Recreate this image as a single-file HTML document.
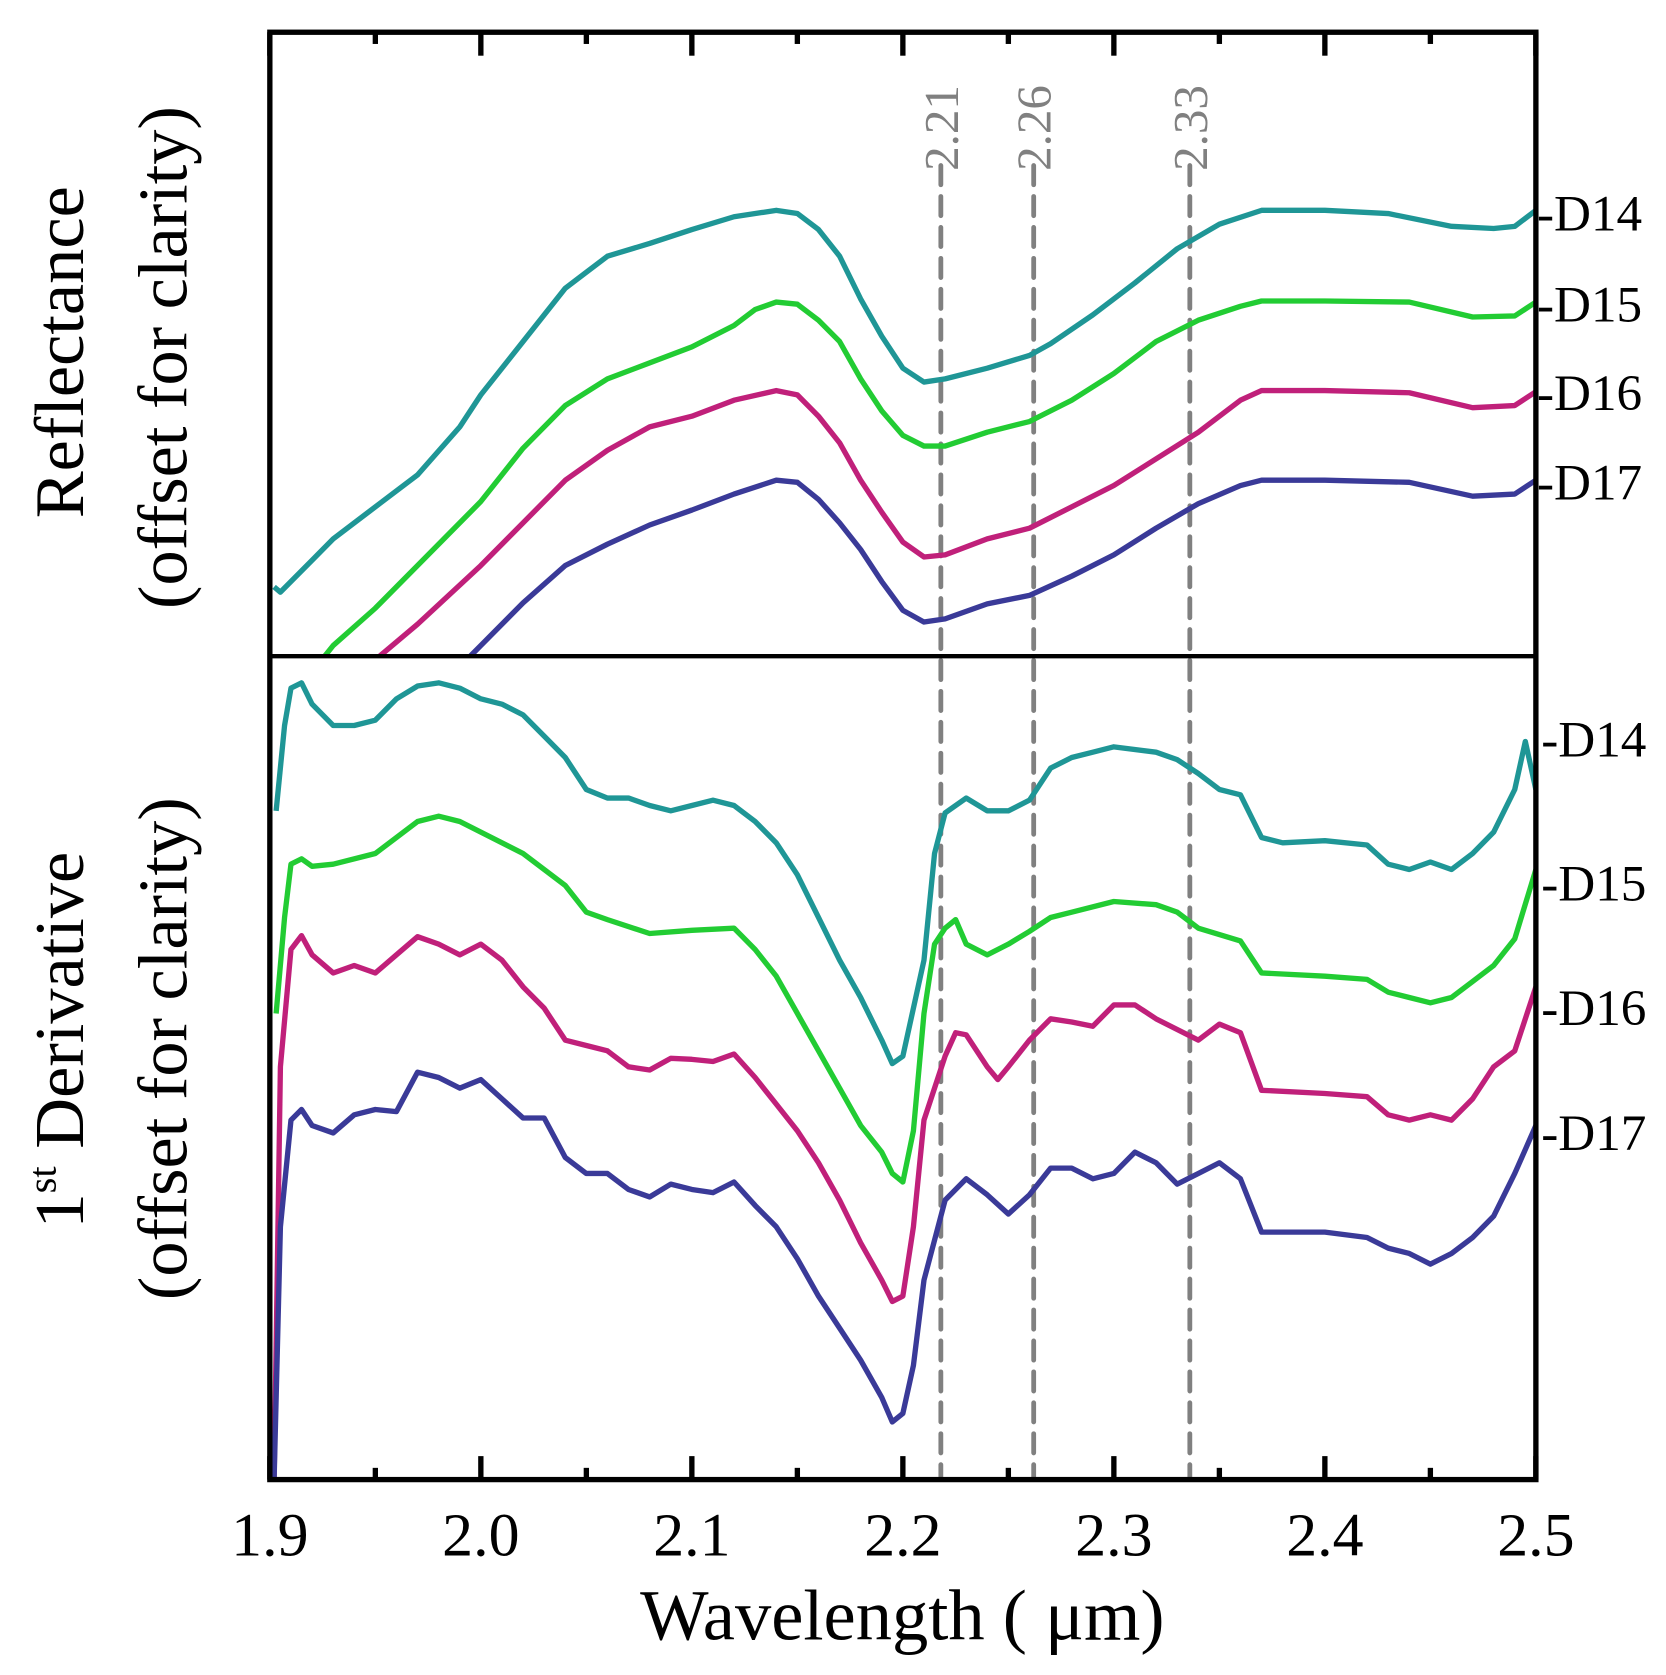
<!DOCTYPE html>
<html><head><meta charset="utf-8"><style>
html,body{margin:0;padding:0;background:#fff;}
svg{display:block;}
text{font-family:"Liberation Serif",serif;}
</style></head><body>
<svg id="chart" width="1666" height="1675" viewBox="0 0 1562 1570" xmlns="http://www.w3.org/2000/svg">
<defs>
<clipPath id="clipTop"><rect x="253" y="30" width="1187" height="585"/></clipPath>
<clipPath id="clipBot"><rect x="253" y="615" width="1187" height="772"/></clipPath>
</defs>
<g id="marks"></g>
<g id="frame"></g>
</svg>
<script>
const xTicks = [1.9, 2.0, 2.1, 2.2, 2.3, 2.4, 2.5];
const xMinor = [1.95, 2.05, 2.15, 2.25, 2.35, 2.45];
const refLines = [2.218, 2.262, 2.336];
const refLabels = ["2.21", "2.26", "2.33"];
const seriesNames = ["D14", "D15", "D16", "D17"];
const seriesColors = ["#1f9696", "#22cc33", "#c0207a", "#3a3a98"];

const topX14 = [1.902,1.905,1.91,1.92,1.93,1.95,1.97,1.99,2.0,2.02,2.04,2.05,2.06,2.08,2.1,2.12,2.14,2.15,2.16,2.17,2.18,2.19,2.2,2.21,2.22,2.24,2.26,2.27,2.29,2.31,2.33,2.35,2.37,2.4,2.43,2.46,2.48,2.49,2.5];
const topY14 = [0.65,0.60,0.70,0.90,1.10,1.40,1.70,2.15,2.45,2.95,3.45,3.60,3.75,3.87,4.00,4.12,4.18,4.15,4.00,3.75,3.35,3.00,2.70,2.57,2.60,2.70,2.82,2.93,3.20,3.50,3.82,4.05,4.18,4.18,4.15,4.03,4.01,4.03,4.18];
const topX15 = [1.926,1.93,1.95,1.97,2.0,2.02,2.04,2.06,2.08,2.1,2.12,2.13,2.14,2.15,2.16,2.17,2.18,2.19,2.2,2.21,2.22,2.24,2.26,2.28,2.3,2.32,2.34,2.36,2.37,2.4,2.44,2.47,2.49,2.5];
const topY15 = [0.0,0.10,0.45,0.85,1.45,1.95,2.35,2.60,2.75,2.90,3.10,3.25,3.32,3.30,3.15,2.95,2.60,2.30,2.07,1.97,1.97,2.10,2.20,2.40,2.65,2.95,3.15,3.28,3.33,3.33,3.32,3.18,3.19,3.32];
const topX16 = [1.952,1.97,2.0,2.02,2.04,2.06,2.08,2.1,2.12,2.14,2.15,2.16,2.17,2.18,2.19,2.2,2.21,2.22,2.24,2.26,2.28,2.3,2.32,2.34,2.36,2.37,2.4,2.44,2.47,2.49,2.5];
const topY16 = [0.0,0.30,0.85,1.25,1.65,1.93,2.15,2.25,2.40,2.49,2.45,2.25,2.00,1.65,1.35,1.07,0.93,0.95,1.10,1.20,1.40,1.60,1.85,2.10,2.40,2.49,2.49,2.47,2.33,2.35,2.48];
const topX17 = [1.995,2.0,2.02,2.04,2.06,2.08,2.1,2.12,2.14,2.15,2.16,2.17,2.18,2.19,2.2,2.21,2.22,2.24,2.26,2.28,2.3,2.32,2.34,2.36,2.37,2.4,2.44,2.47,2.49,2.5];
const topY17 = [0.0,0.10,0.50,0.85,1.05,1.23,1.37,1.52,1.65,1.63,1.47,1.25,1.00,0.70,0.43,0.32,0.35,0.49,0.57,0.75,0.95,1.20,1.43,1.60,1.65,1.65,1.63,1.50,1.52,1.65];

const botX14 = [1.903,1.907,1.91,1.915,1.92,1.93,1.94,1.95,1.96,1.97,1.98,1.99,2.0,2.01,2.02,2.03,2.04,2.05,2.06,2.07,2.08,2.09,2.1,2.11,2.12,2.13,2.14,2.15,2.16,2.17,2.18,2.19,2.195,2.2,2.21,2.215,2.22,2.23,2.24,2.25,2.26,2.27,2.28,2.29,2.3,2.32,2.33,2.34,2.35,2.36,2.37,2.38,2.4,2.42,2.43,2.44,2.45,2.46,2.47,2.48,2.49,2.495,2.5];
const botY14 = [6.27,7.07,7.42,7.47,7.27,7.07,7.07,7.12,7.32,7.44,7.47,7.42,7.32,7.27,7.17,6.97,6.77,6.47,6.39,6.39,6.32,6.27,6.32,6.37,6.32,6.17,5.97,5.67,5.27,4.87,4.52,4.12,3.90,3.97,4.87,5.87,6.25,6.39,6.27,6.27,6.37,6.67,6.77,6.82,6.87,6.82,6.75,6.62,6.47,6.42,6.02,5.97,5.99,5.95,5.77,5.72,5.79,5.72,5.87,6.07,6.47,6.92,6.47];
const botX15 = [1.903,1.907,1.91,1.915,1.92,1.93,1.95,1.96,1.97,1.98,1.99,2.0,2.02,2.04,2.05,2.06,2.08,2.1,2.12,2.13,2.14,2.15,2.16,2.17,2.18,2.19,2.195,2.2,2.205,2.21,2.215,2.22,2.225,2.23,2.24,2.25,2.26,2.27,2.28,2.3,2.32,2.33,2.34,2.36,2.37,2.4,2.42,2.43,2.44,2.45,2.46,2.47,2.48,2.49,2.5];
const botY15 = [4.37,5.27,5.77,5.82,5.75,5.77,5.87,6.02,6.17,6.22,6.17,6.07,5.87,5.57,5.32,5.25,5.12,5.15,5.17,4.97,4.72,4.37,4.02,3.67,3.32,3.07,2.87,2.79,3.27,4.37,5.02,5.17,5.25,5.02,4.92,5.02,5.14,5.27,5.32,5.42,5.39,5.32,5.17,5.05,4.75,4.72,4.69,4.57,4.52,4.47,4.52,4.67,4.82,5.07,5.72];
const botX16 = [1.902,1.905,1.91,1.915,1.92,1.93,1.94,1.95,1.96,1.97,1.98,1.99,2.0,2.01,2.02,2.03,2.04,2.05,2.06,2.07,2.08,2.09,2.1,2.11,2.12,2.13,2.14,2.15,2.16,2.17,2.18,2.19,2.195,2.2,2.205,2.21,2.22,2.225,2.23,2.24,2.245,2.25,2.26,2.27,2.28,2.29,2.3,2.31,2.32,2.33,2.34,2.35,2.36,2.37,2.4,2.42,2.43,2.44,2.45,2.46,2.47,2.48,2.49,2.5];
const botY16 = [0.0,3.87,4.97,5.10,4.92,4.75,4.82,4.75,4.92,5.09,5.02,4.92,5.02,4.87,4.62,4.42,4.12,4.07,4.02,3.87,3.84,3.95,3.94,3.92,3.99,3.77,3.52,3.27,2.97,2.62,2.22,1.87,1.67,1.72,2.37,3.37,3.97,4.19,4.17,3.87,3.75,3.87,4.12,4.32,4.29,4.25,4.45,4.45,4.32,4.22,4.12,4.27,4.19,3.65,3.62,3.59,3.42,3.37,3.42,3.37,3.57,3.87,4.02,4.62];
const botX17 = [1.902,1.905,1.91,1.915,1.92,1.93,1.94,1.95,1.96,1.97,1.98,1.99,2.0,2.01,2.02,2.03,2.04,2.05,2.06,2.07,2.08,2.09,2.1,2.11,2.12,2.13,2.14,2.15,2.16,2.17,2.18,2.19,2.195,2.2,2.205,2.21,2.22,2.23,2.24,2.25,2.26,2.27,2.28,2.29,2.3,2.31,2.32,2.33,2.34,2.35,2.36,2.37,2.4,2.42,2.43,2.44,2.45,2.46,2.47,2.48,2.49,2.5];
const botY17 = [0.0,2.37,3.37,3.47,3.32,3.25,3.42,3.47,3.45,3.82,3.77,3.67,3.75,3.57,3.39,3.39,3.02,2.87,2.87,2.72,2.65,2.77,2.72,2.69,2.79,2.57,2.37,2.07,1.72,1.42,1.12,0.77,0.54,0.62,1.07,1.87,2.62,2.82,2.67,2.49,2.67,2.92,2.92,2.82,2.87,3.07,2.97,2.77,2.87,2.97,2.82,2.32,2.32,2.27,2.17,2.12,2.02,2.12,2.27,2.47,2.87,3.32];

const topXs = [topX14, topX15, topX16, topX17];
const topYs = [topY14, topY15, topY16, topY17];
const botXs = [botX14, botX15, botX16, botX17];
const botYs = [botY14, botY15, botY16, botY17];
const topLabelVals = [4.15, 3.30, 2.47, 1.63];
const botLabelVals = [6.94, 5.59, 4.42, 3.25];

const L = 253, R = 1440, T = 30, MID = 615, B = 1387;
const xS = v => L + (v - 1.9) / 0.6 * (R - L);
const yTop = v => MID - v * 100;
const yBot = v => B - v * 100;

const NS = "http://www.w3.org/2000/svg";
const marks = document.getElementById("marks");
const frame = document.getElementById("frame");
function mk(tag, attrs, parent) {
  const e = document.createElementNS(NS, tag);
  for (const k in attrs) e.setAttribute(k, attrs[k]);
  parent.appendChild(e);
  return e;
}

refLines.forEach((v, i) => {
  const ln = mk("line", {x1: xS(v), x2: xS(v), y1: 155, y2: B, stroke: "#808080", "stroke-width": 4.5, "stroke-dasharray": "18 11", "stroke-linecap": "round"}, marks);
  
  
  const t = mk("text", {x: 0, y: 0, transform: `translate(${xS(v) + 16},160) rotate(-90)`, fill: "#808080", "font-size": 46}, marks);
  t.textContent = refLabels[i];
  
  
});

const gTop = mk("g", {"clip-path": "url(#clipTop)"}, marks);
const gBot = mk("g", {"clip-path": "url(#clipBot)"}, marks);
for (let s = 0; s < 4; s++) {
  let d = topXs[s].map((x, i) => (i ? "L" : "M") + xS(x).toFixed(1) + "," + yTop(topYs[s][i]).toFixed(1)).join("");
  const p = mk("path", {d: d, fill: "none", stroke: seriesColors[s], "stroke-width": 5, "stroke-linejoin": "round"}, gTop);
  
  
  d = botXs[s].map((x, i) => (i ? "L" : "M") + xS(x).toFixed(1) + "," + yBot(botYs[s][i]).toFixed(1)).join("");
  const q = mk("path", {d: d, fill: "none", stroke: seriesColors[s], "stroke-width": 5, "stroke-linejoin": "round"}, gBot);
  
  
  const t1 = mk("text", {x: R + 1, y: yTop(topLabelVals[s]) + 16, "font-size": 48}, frame);
  t1.textContent = "-" + seriesNames[s];
  
  
  const t2 = mk("text", {x: R + 5, y: yBot(botLabelVals[s]) + 16, "font-size": 48}, frame);
  t2.textContent = "-" + seriesNames[s];
  
  
}

const box = mk("rect", {x: L, y: T, width: R - L, height: B - T, fill: "none", stroke: "#000", "stroke-width": 5}, frame);


const dv = mk("line", {x1: L, x2: R, y1: MID, y2: MID, stroke: "#000", "stroke-width": 4}, frame);



xTicks.forEach(v => {
  const a = mk("line", {x1: xS(v), x2: xS(v), y1: T, y2: T + 22, stroke: "#000", "stroke-width": 5}, frame);
  
  
  const b = mk("line", {x1: xS(v), x2: xS(v), y1: B, y2: B - 22, stroke: "#000", "stroke-width": 5}, frame);
  
  
  const t = mk("text", {x: xS(v), y: 1458, "font-size": 58, "text-anchor": "middle"}, frame);
  t.textContent = v.toFixed(1);
  
  
});
xMinor.forEach(v => {
  const a = mk("line", {x1: xS(v), x2: xS(v), y1: T, y2: T + 11, stroke: "#000", "stroke-width": 5}, frame);
  
  
  const b = mk("line", {x1: xS(v), x2: xS(v), y1: B, y2: B - 11, stroke: "#000", "stroke-width": 5}, frame);
  
  
});
</script>
<svg style="position:absolute;left:0;top:0" width="1666" height="1675" viewBox="0 0 1562 1570" xmlns="http://www.w3.org/2000/svg">
<text x="846" y="1537" font-size="68" text-anchor="middle" font-family="Liberation Serif, serif">Wavelength ( μm)</text>
<text transform="translate(78,330) rotate(-90)" font-size="66" text-anchor="middle" font-family="Liberation Sans, sans-serif">Reflectance</text>
<text transform="translate(175,335) rotate(-90)" font-size="66" text-anchor="middle" font-family="Liberation Sans, sans-serif">(offset for clarity)</text>
<text transform="translate(78,975) rotate(-90)" font-size="66" text-anchor="middle" font-family="Liberation Sans, sans-serif">1<tspan font-size="38" dy="-26">st</tspan><tspan dy="26"> Derivative</tspan></text>
<text transform="translate(175,983) rotate(-90)" font-size="66" text-anchor="middle" font-family="Liberation Sans, sans-serif">(offset for clarity)</text>
</svg>
</body></html>
